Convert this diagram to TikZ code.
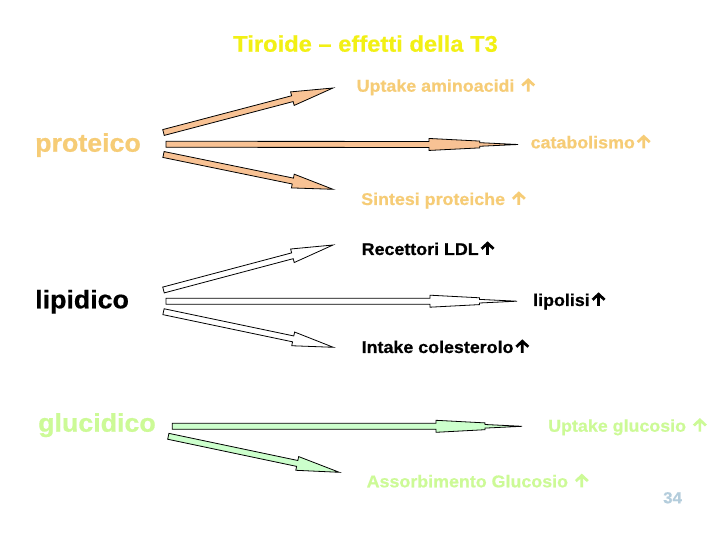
\documentclass[tikz,border=0pt]{standalone}
\usepackage{fontspec}
\usetikzlibrary{calc}
\newfontfamily\labfont[FakeStretch=1.05, FakeBold=0.6]{Liberation Sans}
\definecolor{ttlyellow}{RGB}{242,240,20}
\definecolor{protxt}{RGB}{246,204,118}
\definecolor{profill}{RGB}{248,194,148}
\definecolor{glutxt}{RGB}{204,250,150}
\definecolor{glufill}{RGB}{204,255,204}
\definecolor{pagenum}{RGB}{180,205,220}
% bold up arrow drawn inline, in the given colour
\newcommand{\uparr}[1]{\hspace{1.5pt}\tikz[baseline=0pt,x=1pt,y=1pt]\draw[#1, line width=2.7pt, line cap=butt, line join=miter]
  (0,0) -- (0,12.6) (-6,6.2) -- (0,11.8) -- (6,6.2);}
% tail, tip, shaft half-width, head half-width, head length, style
\newcommand{\blockarr}[6]{%
  \coordinate (#1-h) at ($(#2)!#5!(#1)$);
  \draw[#6] ($(#1)!#3!90:(#2)$) -- ($(#1-h)!#3!-90:(#1)$) -- ($(#1-h)!#4!-90:(#1)$)
    -- (#2) -- ($(#1-h)!#4!90:(#1)$) -- ($(#1-h)!#3!90:(#1)$) -- ($(#1)!#3!-90:(#2)$) -- cycle;}
% long slender head with a kink
\newcommand{\longarr}[6]{%
  \coordinate (#1-h) at ($(#2)!#5!(#1)$);
  \coordinate (#1-k) at ($(#1-h)!0.57!(#2)$);
  \draw[#6] ($(#1)!#3!90:(#2)$) -- ($(#1-h)!#3!-90:(#1)$) -- ($(#1-h)!#4!-90:(#1)$)
    -- ($(#1-k)!3.4pt!-90:(#1)$) -- ($(#1-k)!1.8pt!-90:(#1)$)
    -- (#2)
    -- ($(#1-k)!1.8pt!90:(#1)$) -- ($(#1-k)!3.4pt!90:(#1)$)
    -- ($(#1-h)!#4!90:(#1)$) -- ($(#1-h)!#3!90:(#1)$) -- ($(#1)!#3!-90:(#2)$) -- cycle;}
\tikzset{
  lab/.style={anchor=base west, inner sep=0pt, font=\labfont\bfseries\fontsize{17}{20}\selectfont},
  cat/.style={anchor=base west, inner sep=0pt, font=\labfont\bfseries\fontsize{25.5}{30}\selectfont},
  ttl/.style={anchor=base west, inner sep=0pt, font=\labfont\bfseries\fontsize{22.6}{27}\selectfont},
  arrbox/.style={draw=black, line width=0.8pt, line join=miter},
}
\begin{document}
\begin{tikzpicture}[x=1pt,y=-1pt]
\useasboundingbox[fill=white] (0,0) rectangle (718,537);

% texts
\node[ttl, text=ttlyellow] (title) at (233,51.7) {Tiroide – effetti della T3};
\node[lab, text=protxt] (upamino) at (356.5,91.7) {Uptake aminoacidi \uparr{protxt}};
\node[cat, text=protxt] (proteico) at (35,151.7) {proteico};
\node[lab, text=protxt] (catab) at (530.5,148.3) {catabolismo\uparr{protxt}};
\node[lab, text=protxt] (sintesi) at (361,205) {Sintesi proteiche \uparr{protxt}};
\node[lab, text=black] (ldl) at (361.5,255) {Recettori LDL\uparr{black}};
\node[cat, text=black] (lipidico) at (35,308.3) {lipidico};
\node[lab, text=black] (lipolisi) at (533,306) {lipolisi\uparr{black}};
\node[lab, text=black] (intake) at (361.5,353) {Intake colesterolo\uparr{black}};
\node[cat, text=glutxt] (glucidico) at (38,431.7) {glucidico};
\node[lab, text=glutxt] (upgluc) at (548,431.7) {Uptake glucosio \uparr{glutxt}};
\node[lab, text=glutxt] (assorb) at (366.5,487.3) {Assorbimento Glucosio \uparr{glutxt}};
\node[anchor=base west, inner sep=0pt, font=\labfont\bfseries\fontsize{16}{19}\selectfont, text=pagenum] (page) at (663,503.3) {34};

% arrow end points
\coordinate (pu-t) at (163.5,132.5); \coordinate (pu-p) at (333,88);
\coordinate (pm-t) at (166,144.3);   \coordinate (pm-p) at (518,144.5);
\coordinate (pl-t) at (163.5,154.5); \coordinate (pl-p) at (333,189.3);
\coordinate (lu-t) at (163.5,290);   \coordinate (lu-p) at (333,245);
\coordinate (lm-t) at (166,301.2);   \coordinate (lm-p) at (517,301.2);
\coordinate (ll-t) at (163.5,311.7); \coordinate (ll-p) at (333.3,347.3);
\coordinate (gm-t) at (172.3,426.3); \coordinate (gm-p) at (522,426.3);
\coordinate (gl-t) at (168.3,436.3); \coordinate (gl-p) at (339.3,472.3);

% protein arrows
\blockarr{pu-t}{pu-p}{3pt}{7pt}{42pt}{arrbox, fill=profill}
\longarr{pm-t}{pm-p}{3pt}{6pt}{89pt}{arrbox, fill=profill}
\blockarr{pl-t}{pl-p}{3pt}{7pt}{41pt}{arrbox, fill=profill}
% lipid arrows
\blockarr{lu-t}{lu-p}{3pt}{7pt}{42pt}{arrbox, fill=white}
\longarr{lm-t}{lm-p}{3pt}{6pt}{87pt}{arrbox, fill=white}
\blockarr{ll-t}{ll-p}{3pt}{7pt}{41pt}{arrbox, fill=white}
% glucose arrows
\longarr{gm-t}{gm-p}{3pt}{6pt}{86pt}{arrbox, fill=glufill}
\blockarr{gl-t}{gl-p}{3pt}{7pt}{43pt}{arrbox, fill=glufill}
\end{tikzpicture}
\end{document}
